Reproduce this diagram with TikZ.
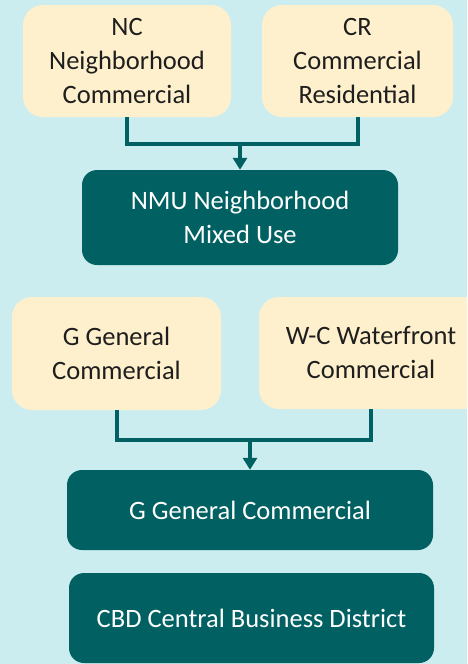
\documentclass[tikz,border=0pt]{standalone}
\usepackage{fontspec}
\setmainfont{Carlito}
\usetikzlibrary{arrows.meta}
\definecolor{bgc}{RGB}{204,237,240}
\definecolor{beige}{RGB}{255,240,205}
\definecolor{teal}{RGB}{0,96,98}
\definecolor{txt}{RGB}{30,30,30}
\begin{document}
\begin{tikzpicture}[x=1pt,y=-1pt,
  lightbox/.style={fill=beige,rounded corners=20pt,inner sep=0pt,align=center,text=txt,
    font=\fontsize{26.5}{34}\selectfont},
  darkbox/.style={fill=teal,rounded corners=15pt,inner sep=0pt,align=center,text=white,
    font=\fontsize{26.5}{34}\selectfont},
  conn/.style={draw=teal,line width=4pt},
  arr/.style={conn,-{Triangle[width=14pt,length=12pt]}}]
\useasboundingbox (0,0) rectangle (467,664);
\fill[bgc] (0,0) rectangle (467,664);
\begin{scope}
\clip (0,0) rectangle (467,664);
\node[lightbox,minimum width=208pt,minimum height=112pt] (nc) at (127,61) {NC\\Neighborhood\\Commercial};
\node[lightbox,minimum width=191pt,minimum height=112pt] (cr) at (357.5,61) {CR\\Commercial\\Residential};
\node[darkbox,minimum width=316pt,minimum height=95pt] (nmu) at (240,217.5) {NMU Neighborhood\\Mixed Use};
\node[lightbox,minimum width=209pt,minimum height=113pt] (g) at (116.5,353.5) {G General\\Commercial};
\node[lightbox,minimum width=224pt,minimum height=112pt] (wc) at (371,353) {W-C Waterfront\\Commercial};
\node[darkbox,minimum width=366pt,minimum height=80pt] (ggc) at (250,510) {\raisebox{-2pt}{G General Commercial}};
\node[darkbox,minimum width=365pt,minimum height=90pt] (cbd) at (251.5,618) {\raisebox{-4pt}{CBD Central Business District}};
\end{scope}
\coordinate (j1) at (240,144);
\coordinate (j2) at (250,440);
\draw[conn] (nc.south) |- (j1) -| (cr.south);
\draw[arr] (j1) -- (nmu.north);
\draw[conn] (g.south) |- (j2) -| (wc.south);
\draw[arr] (j2) -- (ggc.north);
\end{tikzpicture}
\end{document}
